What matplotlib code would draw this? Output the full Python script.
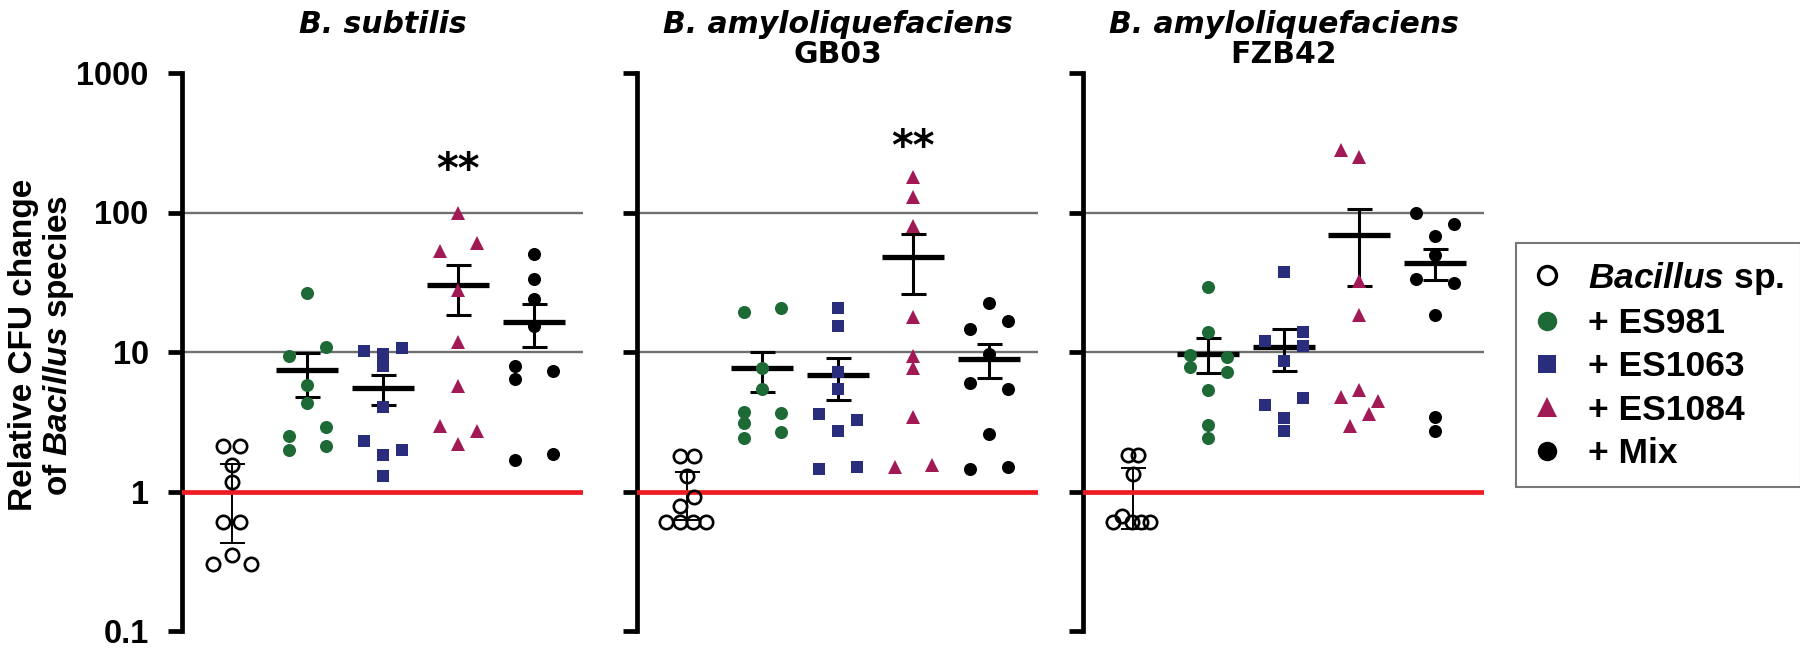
import matplotlib
matplotlib.use("Agg")
import matplotlib.pyplot as plt
from matplotlib.lines import Line2D
from matplotlib.ticker import NullLocator

plt.rcParams['font.family'] = 'Liberation Sans'
plt.rcParams['font.weight'] = 'bold'
plt.rcParams['mathtext.fontset'] = 'custom'
plt.rcParams['mathtext.rm'] = 'Liberation Sans:bold'
plt.rcParams['mathtext.it'] = 'Liberation Sans:italic:bold'
plt.rcParams['mathtext.bf'] = 'Liberation Sans:bold'

# ---- data (relative CFU change) ----
labels = [r'$\mathit{Bacillus}$ sp.', '+ ES981', '+ ES1063', '+ ES1084', '+ Mix']
titles = [("B. subtilis", ""), ("B. amyloliquefaciens", "GB03"),
          ("B. amyloliquefaciens", "FZB42")]

# B. subtilis
bs_bac = [2.13, 2.13, 1.55, 1.17, 0.60, 0.60, 0.35, 0.30, 0.30]
bs_981 = [26.3, 9.38, 10.9, 5.79, 4.28, 2.49, 2.88, 1.99, 2.13]
bs_1063 = [10.1, 9.64, 10.6, 7.96, 4.01, 2.32, 1.84, 1.99, 1.30]
bs_1084 = [99.3, 52.8, 60.6, 27.8, 11.8, 5.66, 2.96, 2.73, 2.19]
bs_mix = [50.0, 33.1, 24.1, 15.4, 7.88, 6.39, 1.69, 7.33, 1.86]
bs_mean = [1.0, 7.41, 5.51, 30.0, 16.4]
bs_lo = [0.43, 4.72, 4.19, 18.3, 10.9]
bs_hi = [1.58, 9.9, 6.82, 41.9, 22.0]

# B. amyloliquefaciens GB03
gb_bac = [1.79, 1.79, 1.30, 0.91, 0.79, 0.60, 0.60, 0.60, 0.60]
gb_981 = [19.3, 20.8, 7.74, 5.42, 3.73, 3.63, 3.10, 2.66, 2.40]
gb_1063 = [20.8, 15.4, 7.21, 5.42, 3.59, 3.27, 2.70, 1.44, 1.49]
gb_1084 = [179.5, 129.0, 79.7, 17.9, 9.38, 7.62, 3.40, 1.49, 1.56]
gb_mix = [22.3, 16.7, 14.5, 9.64, 5.98, 5.42, 2.58, 1.44, 1.50]
gb_mean = [1.0, 7.66, 6.82, 48.1, 8.88]
gb_lo = [0.62, 5.21, 4.52, 26.2, 6.46]
gb_hi = [1.39, 10.07, 9.12, 70.2, 11.4]

# B. amyloliquefaciens FZB42
fz_bac = [1.83, 1.83, 1.34, 0.67, 0.60, 0.60, 0.60, 0.60]
fz_981 = [29.2, 13.9, 9.53, 9.27, 7.83, 7.21, 5.33, 3.0, 2.40]
fz_1063 = [37.6, 12.0, 13.8, 11.1, 8.64, 4.16, 4.65, 3.34, 2.73]
fz_1084 = [281.0, 252.0, 32.2, 18.3, 4.73, 5.36, 4.47, 3.59, 2.96]
fz_mix = [100.0, 83.3, 68.4, 49.2, 33.1, 31.4, 18.3, 3.40, 2.73]
fz_mean = [1.0, 9.64, 10.9, 68.7, 43.6]
fz_lo = [0.54, 7.05, 7.33, 29.7, 32.6]
fz_hi = [1.47, 12.5, 14.5, 106.6, 55.0]

# significance marks (group index, height)
sig = [(3, 200), (3, 290), None]

# swarm columns (in marker-widths) for each point, layout only
bs_cols = [[-0.45, 0.45, 0, 0, -0.45, 0.45, 0, -1, 1],
           [0, -1, 1, 0, 0, -1, 1, -1, 1],
           [-1, 0, 1, 0, 0, -1, 0, 1, 0],
           [0, -1, 1, 0, 0, 0, -1, 1, 0],
           [0, 0, 0, 0, -1, -1, -1, 1, 1]]
gb_cols = [[-0.38, 0.38, 0, 0.36, -0.39, -1.1, -0.39, 0.32, 1.03],
           [-1, 1, 0, 0, -1, 1, -1, 1, -1],
           [0, 0, 0, 0, -1, 1, 0, -1, 1],
           [0, 0, 0, 0, 0, 0, 0, -1, 1],
           [0, 1, -1, 0, -1, 1, 0, -1, 1]]
fz_cols = [[-0.27, 0.27, 0, -0.55, -1.03, -0.07, 0.41, 0.92],
           [0, 0, -1, 1, -1, 1, 0, 0, 0],
           [0, -1, 1, 1, 0, -1, 1, 0, 0],
           [-1, 0, 0, 0, -1, 0, 1, 0.5, -0.5],
           [-1, 1, 0, 0, -1, 1, 0, 0, 0]]

panels = [
    ([bs_bac, bs_981, bs_1063, bs_1084, bs_mix], bs_cols, bs_mean, bs_lo, bs_hi),
    ([gb_bac, gb_981, gb_1063, gb_1084, gb_mix], gb_cols, gb_mean, gb_lo, gb_hi),
    ([fz_bac, fz_981, fz_1063, fz_1084, fz_mix], fz_cols, fz_mean, fz_lo, fz_hi),
]

green = '#1d6a37'
blue = '#2a2d7c'
maroon = '#a11a55'
red = '#ed1c24'
gray = '#707070'

styles = [
    dict(marker='o', mfc='none', mec='black', ms=9.6, mew=1.9),
    dict(marker='o', mfc=green, mec=green, ms=9.4, mew=0),
    dict(marker='s', mfc=blue, mec=blue, ms=9.3, mew=0),
    dict(marker='^', mfc=maroon, mec=maroon, ms=10.5, mew=0),
    dict(marker='o', mfc='black', mec='black', ms=9.4, mew=0),
]

fig = plt.figure(figsize=(18, 6.48), dpi=100)
W, H = 1800, 648
lefts = [182, 637, 1083]
top, bot = 73, 631
pw = 401
step = 0.249

for p, (left, (vals, cols, mean, lo, hi)) in enumerate(zip(lefts, panels)):
    ax = fig.add_axes([left / W, 1 - bot / H, pw / W, (bot - top) / H])
    ax.set_yscale('log')
    ax.set_ylim(0.1, 1000)
    ax.set_xlim(-0.66, 4.65)

    ax.axhline(10, color=gray, lw=1.7, zorder=1)
    ax.axhline(100, color=gray, lw=1.7, zorder=1)
    ax.axhline(1, color=red, lw=3.4, zorder=5.5)

    for g in range(5):
        xs = [g + c * step for c in cols[g]]
        ax.plot(xs, vals[g], linestyle='none', zorder=6, **styles[g])
        err = [[mean[g] - lo[g]], [hi[g] - mean[g]]]
        if g == 0:
            ax.errorbar(g, mean[g], yerr=err, fmt='none', ecolor='black',
                        elinewidth=1.4, capsize=9, capthick=1.4, zorder=5)
        else:
            ax.errorbar(g, mean[g], yerr=err, fmt='none', ecolor='black',
                        elinewidth=2.2, capsize=9, capthick=2.2, zorder=5)
            ax.hlines(mean[g], g - 0.41, g + 0.41, color='black', lw=3.8, zorder=5)

    if sig[p] is not None:
        ax.text(sig[p][0], sig[p][1], '**', ha='center', va='center', fontsize=30,
                family='DejaVu Sans')

    for s in ['top', 'right', 'bottom']:
        ax.spines[s].set_visible(False)
    ax.spines['left'].set_linewidth(3.4)
    ax.set_xticks([])
    ax.set_yticks([0.1, 1, 10, 100, 1000])
    ax.yaxis.set_minor_locator(NullLocator())
    ax.tick_params(axis='y', length=10, width=3.4, labelsize=23.5, pad=14)
    if p == 0:
        ax.set_yticklabels(['0.1', '1', '10', '100', '1000'])
    else:
        ax.set_yticklabels([])

    cx = (left + pw / 2) / W
    fig.text(cx, 1 - 33 / H, titles[p][0], ha='center', va='baseline',
             fontsize=21.5, style='italic', family='DejaVu Sans')
    if titles[p][1]:
        fig.text(cx, 1 - 63 / H, titles[p][1], ha='center', va='baseline',
                 fontsize=21.5, family='DejaVu Sans')

fig.text(42 / W, 1 - 345 / H, "Relative CFU change\nof $\\mathit{Bacillus}$ species",
         rotation=90, ha='center', va='center', fontsize=24, linespacing=1.1,
         multialignment='center')

leg_styles = [
    dict(marker='o', mfc='none', mec='black', ms=13, mew=2.4),
    dict(marker='o', mfc=green, mec=green, ms=14, mew=0),
    dict(marker='s', mfc=blue, mec=blue, ms=13, mew=0),
    dict(marker='^', mfc=maroon, mec=maroon, ms=14, mew=0),
    dict(marker='o', mfc='black', mec='black', ms=14, mew=0),
]
handles = [Line2D([], [], linestyle='none', **s) for s in leg_styles]
leg = fig.legend(handles, labels, loc='upper left',
                 bbox_to_anchor=(1516 / W, 1 - 243 / H), bbox_transform=fig.transFigure,
                 frameon=True, fancybox=False, edgecolor='#777777', framealpha=1,
                 borderaxespad=0, prop={'size': 25.5, 'weight': 'bold'},
                 handlelength=0.8, handletextpad=0.76, borderpad=0.475, labelspacing=0.29)
leg.get_frame().set_linewidth(1.5)

fig.savefig('out.png', dpi=100)
